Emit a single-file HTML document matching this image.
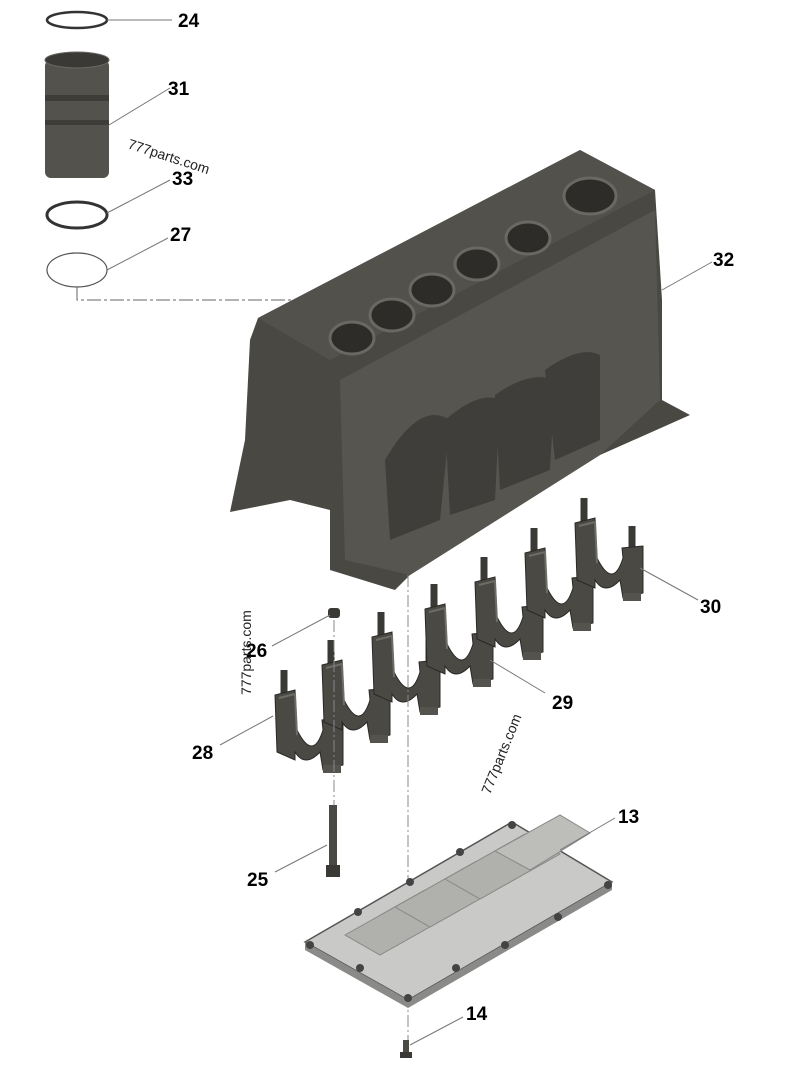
<!DOCTYPE html>
<html><head><style>
body{margin:0;background:#fff;}
svg{display:block}
text{font-family:"Liberation Sans",Arial,sans-serif;font-weight:bold;font-size:19px;fill:#000}
.wm{font-weight:normal;font-size:14px;fill:#222}
</style></head><body>
<svg width="800" height="1067" viewBox="0 0 800 1067">
<defs>
<g id="cap">
 <line x1="9" y1="-20" x2="9" y2="5" stroke="#3a3935" stroke-width="7"/>
 <line x1="57" y1="8" x2="57" y2="30" stroke="#3a3935" stroke-width="7"/>
 <path d="M0 5 L20 0 L22 40 Q38 72 48 40 L47 30 L68 28 L68 75 L48 80 L45 62 Q30 78 20 62 L20 70 L2 62 Z" fill="#4a4944" stroke="#2a2926" stroke-width="1"/>
 <path d="M4 8 L20 4 L22 45" fill="none" stroke="#6e6c66" stroke-width="2"/>
 <rect x="48" y="75" width="18" height="8" fill="#55534e"/>
</g>
</defs>
<ellipse cx="77" cy="20" rx="30" ry="8" fill="none" stroke="#333" stroke-width="2.5"/>
<line x1="107" y1="20" x2="172" y2="20" stroke="#777"/>
<text x="178" y="27">24</text>
<rect x="45" y="60" width="64" height="118" rx="6" fill="#54524d"/>
<ellipse cx="77" cy="60" rx="32" ry="8" fill="#3a3935" stroke="#6a6863"/>
<rect x="45" y="95" width="64" height="6" fill="#3e3d39"/>
<rect x="45" y="120" width="64" height="5" fill="#3e3d39"/>
<line x1="109" y1="125" x2="170" y2="88" stroke="#777"/>
<text x="168" y="95">31</text>
<text class="wm" x="127" y="148" transform="rotate(18 127 148)">777parts.com</text>
<ellipse cx="77" cy="215" rx="30" ry="13" fill="none" stroke="#333" stroke-width="3"/>
<line x1="107" y1="213" x2="170" y2="180" stroke="#777"/>
<text x="172" y="185">33</text>
<ellipse cx="77" cy="270" rx="30" ry="17" fill="none" stroke="#555" stroke-width="1.2"/>
<line x1="107" y1="270" x2="168" y2="238" stroke="#777"/>
<text x="170" y="241">27</text>
<path d="M77 287 V300 H333 V330" fill="none" stroke="#666" stroke-dasharray="14 3 3 3"/>
<path d="M258 318 L580 150 L655 190 L662 300 L662 400 L690 415 L600 455 L410 575 L395 590 L330 570 L330 510 L290 500 L230 512 L245 440 L250 340 Z" fill="#4a4843"/>
<path d="M258 318 L580 150 L655 190 L330 360 Z" fill="#53514c"/>
<path d="M340 380 L655 210 L660 400 L600 455 L410 575 L345 560 Z" fill="#57554f"/>
<g fill="#2d2c29" stroke="#6a6862" stroke-width="3">
<ellipse cx="352" cy="338" rx="22" ry="16"/><ellipse cx="392" cy="315" rx="22" ry="16"/>
<ellipse cx="432" cy="290" rx="22" ry="16"/><ellipse cx="477" cy="264" rx="22" ry="16"/>
<ellipse cx="528" cy="238" rx="22" ry="16"/><ellipse cx="590" cy="196" rx="26" ry="18"/>
</g>
<g fill="#3f3e3a">
<path d="M385 460 Q420 400 450 420 L440 520 L390 540Z"/><path d="M445 420 Q480 390 500 400 L495 500 L450 515Z"/>
<path d="M495 395 Q530 370 555 380 L550 470 L500 490Z"/><path d="M545 370 Q580 345 600 355 L600 440 L555 460Z"/>
</g>
<line x1="662" y1="290" x2="712" y2="262" stroke="#777"/>
<text x="713" y="266">32</text>
<use href="#cap" x="275" y="690"/><use href="#cap" x="322" y="660"/><use href="#cap" x="372" y="632"/>
<use href="#cap" x="425" y="604"/><use href="#cap" x="475" y="577"/><use href="#cap" x="525" y="548"/><use href="#cap" x="575" y="518"/>
<line x1="640" y1="568" x2="698" y2="600" stroke="#777"/>
<text x="700" y="613">30</text>
<line x1="490" y1="660" x2="545" y2="693" stroke="#777"/>
<text x="552" y="709">29</text>
<line x1="273" y1="716" x2="220" y2="745" stroke="#777"/>
<text x="192" y="759">28</text>
<rect x="328" y="608" width="12" height="10" rx="3" fill="#3a3935"/>
<line x1="330" y1="615" x2="272" y2="646" stroke="#777"/>
<text x="246" y="657">26</text>
<text class="wm" x="251" y="695" transform="rotate(-90 251 695)">777parts.com</text>
<line x1="334" y1="620" x2="334" y2="805" stroke="#888" stroke-dasharray="12 3 2 3"/>
<line x1="408" y1="575" x2="408" y2="1040" stroke="#888" stroke-dasharray="12 3 2 3"/>
<text class="wm" x="490" y="795" transform="rotate(-68 490 795)">777parts.com</text>
<rect x="329" y="805" width="8" height="62" fill="#4a4944"/>
<rect x="326" y="865" width="14" height="12" fill="#3a3935"/>
<line x1="327" y1="845" x2="275" y2="872" stroke="#777"/>
<text x="247" y="886">25</text>
<path d="M305 942 L512 822 L612 882 L408 1000 Z" fill="#c9c9c7" stroke="#555" stroke-width="1.5"/>
<path d="M305 942 L305 950 L408 1008 L612 890 L612 882 L408 1000 Z" fill="#8a8a88"/>
<g fill="#b0b0ad" stroke="#888">
<path d="M345 935 L425 890 L460 910 L380 955Z"/><path d="M395 907 L475 862 L510 882 L430 927Z"/>
<path d="M445 879 L525 834 L560 854 L480 899Z"/><path d="M495 851 L560 815 L590 833 L530 870Z" fill="#bdbdba"/>
</g>
<g fill="#444"><circle cx="310" cy="945" r="4"/><circle cx="360" cy="968" r="4"/><circle cx="408" cy="998" r="4"/><circle cx="456" cy="968" r="4"/><circle cx="505" cy="945" r="4"/><circle cx="558" cy="917" r="4"/><circle cx="608" cy="885" r="4"/><circle cx="512" cy="825" r="4"/><circle cx="460" cy="852" r="4"/><circle cx="410" cy="882" r="4"/><circle cx="358" cy="912" r="4"/></g>
<line x1="560" y1="850" x2="615" y2="818" stroke="#777"/>
<text x="618" y="823">13</text>
<rect x="403" y="1040" width="6" height="14" fill="#4a4944"/>
<rect x="400" y="1052" width="12" height="6" fill="#3a3935"/>
<line x1="410" y1="1045" x2="463" y2="1017" stroke="#777"/>
<text x="466" y="1020">14</text>
</svg>
</body></html>
